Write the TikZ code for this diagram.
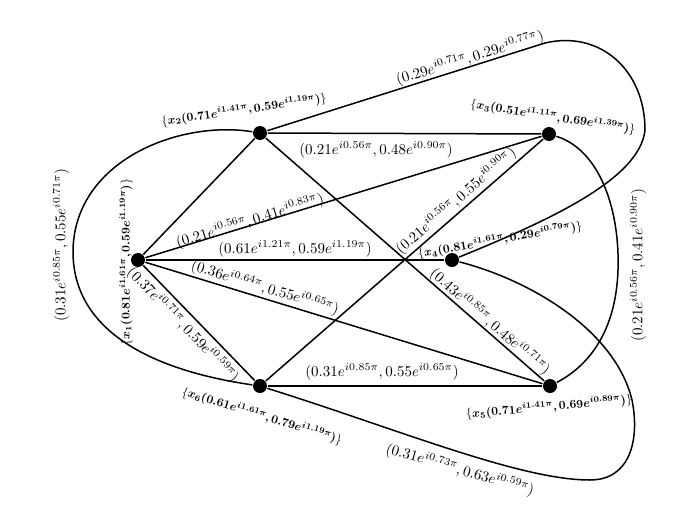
\documentclass[tikz,border=0pt]{standalone}
\usepackage{amsmath,bm}
\begin{document}
\begin{tikzpicture}[x=1pt,y=-1pt,line width=1.5pt,
  dot/.style={circle,fill=black,inner sep=0pt,minimum size=14pt},
  lab/.style={inner sep=0pt,scale=1.5},
  nlab/.style={inner sep=0pt,scale=1.2}]
\useasboundingbox (0,0) rectangle (678,517);
% vertices
\node[dot] (x1) at (138,260) {};
\node[dot] (x2) at (260,133) {};
\node[dot] (x3) at (549,134) {};
\node[dot] (x4) at (452,260) {};
\node[dot] (x5) at (550,386) {};
\node[dot] (x6) at (260,386) {};
% straight edges
\draw (x1) -- (x2);
\draw (x2) -- (x3);
\draw (x1) -- (x3);
\draw (x1) -- (x4);
\draw (x1) -- (x5);
\draw (x1) -- (x6);
\draw (x2) -- (x5);
\draw (x6) -- (x3);
\draw (x6) -- (x5);
% curved edges
\draw (x2) .. controls (180,120) and (75,160) .. (73,250) .. controls (72,330) and (150,370) .. (x6);
\draw (x2) -- (545,43) .. controls (600,30) and (645,70) .. (645,130) .. controls (640,180) and (545,222) .. (x4);
\draw (x3) .. controls (600,150) and (620,210) .. (618,270) .. controls (616,330) and (590,365) .. (x5);
\draw (x6) .. controls (400,430) and (520,480) .. (590,480) .. controls (630,480) and (640,440) .. (632,400) .. controls (615,330) and (530,280) .. (x4);
% vertex labels
\node[nlab,rotate=8] (l2) at (244,110) {$\{\boldsymbol{x_2(0.71e^{i1.41\pi},0.59e^{i1.19\pi})}\}$};
\node[nlab,rotate=-9] (l3) at (553,117) {$\{\boldsymbol{x_3(0.51e^{i1.11\pi},0.69e^{i1.39\pi})}\}$};
\node[nlab,rotate=10] (l4) at (500,240) {$\{\boldsymbol{x_4(0.81e^{i1.61\pi},0.29e^{i0.79\pi})}\}$};
\node[nlab,rotate=90] (l1) at (126,262) {$\{\boldsymbol{x_1(0.81e^{i1.61\pi},0.59e^{i1.19\pi})}\}$};
\node[nlab,rotate=5] (l5) at (549,407) {$\{\boldsymbol{x_5(0.71e^{i1.41\pi},0.69e^{i0.89\pi})}\}$};
\node[nlab,rotate=-17] (l6) at (262,416) {$\{\boldsymbol{x_6(0.61e^{i1.61\pi},0.79e^{i1.19\pi})}\}$};
% edge labels
\node[lab] (e23) at (376,150) {$(0.21e^{i0.56\pi},0.48e^{i0.90\pi})$};
\node[lab,rotate=17] (e13) at (250,221) {$(0.21e^{i0.56\pi},0.41e^{i0.83\pi})$};
\node[lab] (e14) at (295,249) {$(0.61e^{i1.21\pi},0.59e^{i1.19\pi})$};
\node[lab,rotate=-17] (e15) at (265,288) {$(0.36e^{i0.64\pi},0.55e^{i0.65\pi})$};
\node[lab,rotate=-46] (e16) at (183,325) {$(0.37e^{i0.71\pi},0.59e^{i0.59\pi})$};
\node[lab,rotate=-41] (e25) at (490,322) {$(0.43e^{i0.85\pi},0.48e^{i0.71\pi})$};
\node[lab,rotate=41] (e63) at (456,201) {$(0.21e^{i0.56\pi},0.55e^{i0.90\pi})$};
\node[lab] (e65) at (382,372) {$(0.31e^{i0.85\pi},0.55e^{i0.65\pi})$};
\node[lab,rotate=17] (e24) at (470,58) {$(0.29e^{i0.71\pi},0.29e^{i0.77\pi})$};
\node[lab,rotate=90] (e26) at (61,245) {$(0.31e^{i0.85\pi},0.55e^{i0.71\pi})$};
\node[lab,rotate=90] (e35) at (638,265) {$(0.21e^{i0.56\pi},0.41e^{i0.90\pi})$};
\node[lab,rotate=-16] (e46) at (460,470) {$(0.31e^{i0.73\pi},0.63e^{i0.59\pi})$};
\end{tikzpicture}
\end{document}
